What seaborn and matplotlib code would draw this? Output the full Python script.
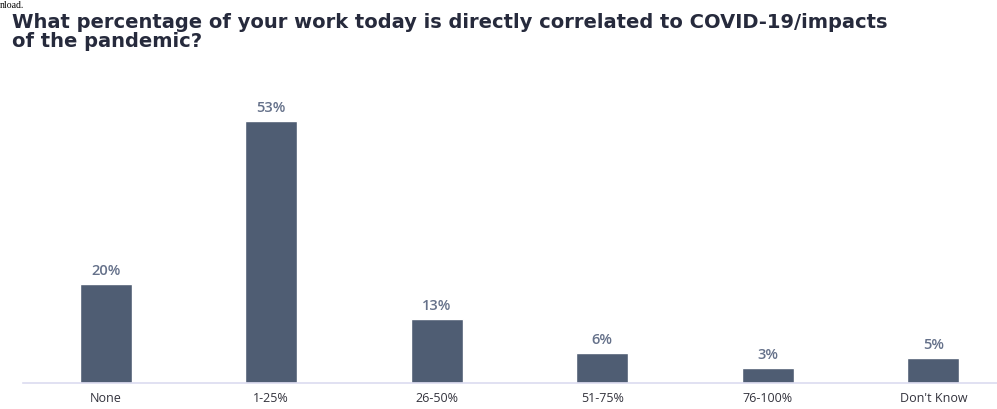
import matplotlib
matplotlib.use("Agg")
import matplotlib.pyplot as plt
import seaborn as sns
import pandas as pd

categories = ["None", "1-25%", "26-50%", "51-75%", "76-100%", "Don't Know"]
values = [20, 53, 13, 6, 3, 5]
value_labels = ["20%", "53%", "13%", "6%", "3%", "5%"]
title = "What percentage of your work today is directly correlated to COVID-19/impacts\nof the pandemic?"

sns.set_theme(style="white")
plt.rcParams["font.family"] = ["Liberation Sans", "DejaVu Sans"]

df = pd.DataFrame({"cat": categories, "val": values})

fig = plt.figure(figsize=(9.97, 4.09), dpi=100)
ax = fig.add_axes([23 / 997, (409 - 383) / 409, 1 - 23 / 997, (383 - 86.6) / 409])

sns.barplot(data=df, x="cat", y="val", color="#4f5d73", saturation=1, width=0.315, ax=ax)
ax.set_xlim(-0.5, 5.385)
ax.set_ylim(0, 60)

for i, (v, lab) in enumerate(zip(values, value_labels)):
    ax.annotate(lab, (i, v), xytext=(0, 4.5), textcoords="offset points",
                ha="center", va="bottom", fontsize=10.5, fontweight="semibold",
                color="#65718a", family=["Open Sans", "DejaVu Sans"])

ax.set_xlabel("")
ax.set_ylabel("")
ax.set_yticks([])
ax.tick_params(axis="x", length=0, pad=6.5, labelsize=9, colors="#33333d")
for lbl in ax.get_xticklabels():
    lbl.set_family(["Open Sans", "DejaVu Sans"])
for s in ["top", "right", "left"]:
    ax.spines[s].set_visible(False)
ax.spines["bottom"].set_color("#dcdcf0")
ax.spines["bottom"].set_linewidth(1.2)

fig.text(12 / 997, 1 - 13 / 409, title, ha="left", va="top", fontsize=14.05,
         fontweight="bold", color="#262a3c", linespacing=1.0,
         family=["DejaVu Sans"])
fig.text(0 / 997, 1 - 0.5 / 409, "nload.", ha="left", va="top", fontsize=7,
         family=["Liberation Serif"], color="#000000")

fig.savefig("out.png", dpi=100)
